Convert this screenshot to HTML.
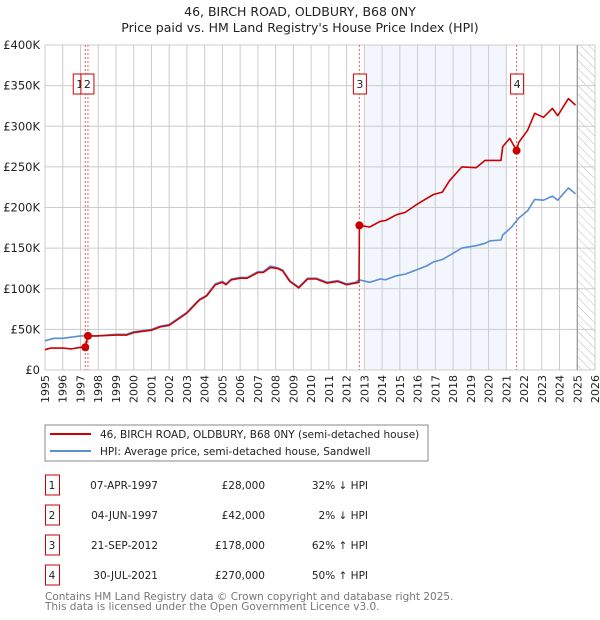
<!DOCTYPE html>
<html><head><meta charset="utf-8"><style>
body{margin:0;background:#fff;}
svg{display:block;font-family:"DejaVu Sans","Liberation Sans",sans-serif;}
</style></head><body>
<svg id="chart" width="600" height="620" viewBox="0 0 600 620">
<defs><pattern id="hatch" width="6" height="6" patternUnits="userSpaceOnUse" patternTransform="rotate(-45)"><line x1="0" y1="0" x2="0" y2="6" stroke="#bbb" stroke-width="1"/></pattern></defs>
<text x="300" y="16" text-anchor="middle" font-size="12.5" fill="#222">46, BIRCH ROAD, OLDBURY, B68 0NY</text>
<text x="300" y="32" text-anchor="middle" font-size="12.5" fill="#222">Price paid vs. HM Land Registry's House Price Index (HPI)</text>
<g id="plot"></g>
<g>
<rect x="45" y="425" width="383" height="36" fill="#fff" stroke="#888"/>
<line x1="50" y1="434" x2="91" y2="434" stroke="#cc0000" stroke-width="2"/>
<text x="100" y="438" font-size="10.5" fill="#222">46, BIRCH ROAD, OLDBURY, B68 0NY (semi-detached house)</text>
<line x1="50" y1="451" x2="91" y2="451" stroke="#5b8fd4" stroke-width="2"/>
<text x="100" y="455" font-size="10.5" fill="#222">HPI: Average price, semi-detached house, Sandwell</text>
</g>
<g id="table" font-size="10.5" fill="#222"></g>
<text x="45" y="600" font-size="10.5" fill="#777">Contains HM Land Registry data © Crown copyright and database right 2025.</text>
<text x="45" y="610" font-size="10.5" fill="#777">This data is licensed under the Open Government Licence v3.0.</text>
</svg>
<script>
const hpiYears=[1995.0,1995.5,1996.0,1997.0,1997.9,1999.0,1999.6,2000.0,2001.0,2001.5,2002.0,2003.0,2003.7,2004.1,2004.6,2005.0,2005.2,2005.5,2006.0,2006.4,2007.0,2007.3,2007.7,2008.1,2008.4,2008.8,2009.3,2009.8,2010.3,2010.9,2011.5,2012.0,2012.5,2012.7,2013.3,2013.9,2014.2,2014.8,2015.3,2015.9,2016.5,2016.9,2017.4,2017.8,2018.5,2019.3,2019.8,2020.1,2020.7,2020.8,2021.3,2021.7,2022.2,2022.6,2023.1,2023.6,2023.9,2024.5,2024.9];
const hpiValues=[36,39,39,42,42,44,44,47,50,54,56,71,87,92,106,109,106,112,114,114,121,121,128,126,123,110,102,113,113,108,110,106,108,111,108,112,111,116,118,123,128,133,136,141,150,153,156,159,160,166,176,187,196,210,209,214,209,224,217];
const priceYears=[1995.0,1995.3,1996.0,1996.5,1997.0,1997.27,1997.42,1997.9,1999.0,1999.6,2000.0,2001.0,2001.5,2002.0,2003.0,2003.7,2004.1,2004.6,2005.0,2005.2,2005.5,2006.0,2006.4,2007.0,2007.3,2007.7,2008.1,2008.4,2008.8,2009.3,2009.8,2010.3,2010.9,2011.5,2012.0,2012.5,2012.7,2012.72,2013.3,2013.9,2014.2,2014.8,2015.3,2015.9,2016.5,2016.9,2017.4,2017.8,2018.5,2019.3,2019.8,2020.1,2020.7,2020.8,2021.2,2021.58,2021.7,2022.2,2022.6,2023.1,2023.6,2023.9,2024.5,2024.9];
const priceValues=[25,27,27,26,28,28,42,42,43,43,46,49,53,55,70,86,91,105,108,105,111,113,113,120,120,126,125,122,109,101,112,112,107,109,105,107,108,178,176,183,184,191,194,203,211,216,219,233,250,249,258,258,258,275,285,270,280,295,316,311,322,313,334,326];
const saleIds=["1","2","3","4"];
const saleYears=[1997.27,1997.42,2012.72,2021.58];
const saleValues=[28,42,178,270];
const saleDates=["07-APR-1997","04-JUN-1997","21-SEP-2012","30-JUL-2021"];
const salePrices=["£28,000","£42,000","£178,000","£270,000"];
const saleHpi=["32% ↓ HPI","2% ↓ HPI","62% ↑ HPI","50% ↑ HPI"];
const yTicks=[0,50,100,150,200,250,300,350,400];
const yTickLabels=["£0","£50K","£100K","£150K","£200K","£250K","£300K","£350K","£400K"];
const xTicks=[1995,1996,1997,1998,1999,2000,2001,2002,2003,2004,2005,2006,2007,2008,2009,2010,2011,2012,2013,2014,2015,2016,2017,2018,2019,2020,2021,2022,2023,2024,2025,2026];

const L=45,R=595,T=45,B=370,X0=1995,X1=2026,YM=400;
const xs=v=>L+(v-X0)/(X1-X0)*(R-L);
const ys=v=>B-v/YM*(B-T);
const NS="http://www.w3.org/2000/svg";
const plot=document.getElementById('plot');
function mk(tag,attrs,parent){const e=document.createElementNS(NS,tag);for(const k in attrs)e.setAttribute(k,attrs[k]);(parent||plot).appendChild(e);return e;}

const shade=mk('rect',{x:xs(2013),y:T,width:xs(2021)-xs(2013),height:B-T,fill:'#eef3fc',opacity:0.7});


const hatch=mk('rect',{x:xs(2025),y:T,width:R-xs(2025),height:B-T,fill:'url(#hatch)'});



xTicks.forEach(t=>{
  const g=mk('line',{x1:xs(t),x2:xs(t),y1:T,y2:B,stroke:'#ccc','stroke-width':1});
  
  
  const lb=mk('text',{x:0,y:0,'font-size':11,fill:'#222','text-anchor':'end',transform:`translate(${xs(t)+4},375) rotate(-90)`});
  lb.textContent=t;
  
  
});
yTicks.forEach((t,i)=>{
  const g=mk('line',{x1:L,x2:R,y1:ys(t),y2:ys(t),stroke:'#ccc','stroke-width':1});
  
  
  const lb=mk('text',{x:40,y:ys(t)+4,'font-size':11.5,fill:'#222','text-anchor':'end'});
  lb.textContent=yTickLabels[i];
  
  
});
const nowLine=mk('line',{x1:xs(2025),x2:xs(2025),y1:T,y2:B,stroke:'#888','stroke-width':1});



saleYears.forEach((y,i)=>{
  const d=mk('line',{x1:xs(y),x2:xs(y),y1:T,y2:B,stroke:'#f06060','stroke-width':1,'stroke-dasharray':'2,2'});
  
  
});

function path(xa,va,color,name){
  const p=mk('path',{d:xa.map((x,i)=>(i?'L':'M')+xs(x).toFixed(1)+','+ys(va[i]).toFixed(1)).join(''),fill:'none',stroke:color,'stroke-width':1.6,'stroke-linejoin':'round'});
  
  
}
path(hpiYears,hpiValues,'#5b8fd4','hpi-line');
path(priceYears,priceValues,'#cc0000','price-paid-line');

const boxOffsets=[-12,-7,-6,-6];
saleYears.forEach((y,i)=>{
  const c=mk('circle',{cx:xs(y),cy:ys(saleValues[i]),r:4,fill:'#cc0000'});
  
  
  const bx=xs(y)+boxOffsets[i];
  const b=mk('rect',{x:bx,y:74,width:13,height:20,fill:'#fff',stroke:'#cc0000'});
  
  
  const t=mk('text',{x:bx+6.5,y:88,'font-size':11,fill:'#222','text-anchor':'middle'});
  t.textContent=saleIds[i];
  
  
});

const tbl=document.getElementById('table');
saleIds.forEach((id,i)=>{
  const y=475+i*30;
  const b=mk('rect',{x:45.5,y:y,width:14,height:20,fill:'#fff',stroke:'#cc0000'},tbl);
  
  
  const vals=[[id,52,'middle'],[saleDates[i],158,'end'],[salePrices[i],265,'end'],[saleHpi[i],368,'end']];
  vals.forEach(v=>{
    const t=mk('text',{x:v[1],y:y+14,'text-anchor':v[2]},tbl);
    t.textContent=v[0];
    
    
  });
});
</script>
</body></html>
